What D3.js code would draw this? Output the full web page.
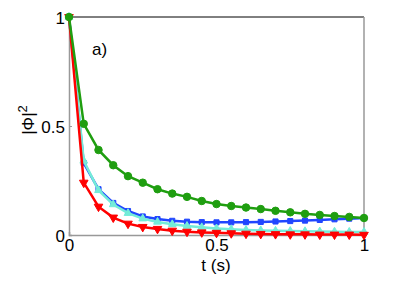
<!DOCTYPE html>
<html>
<head>
<meta charset="utf-8">
<script src="https://cdn.jsdelivr.net/npm/d3@7"></script>
<style>
  body { margin: 0; background: #fff; }
  text { font-family: "Liberation Sans", Arial, sans-serif; fill: #000; }
</style>
</head>
<body>
<div id="chart"></div>
<script>
var svgWidth = 399;
var svgHeight = 283;

var margin = { top: 17, right: 35, bottom: 48, left: 69 };
var width = 364 - margin.left;
var height = 235 - margin.top;

// sample times
var times = d3.range(21).map(i => i * 0.05);

var greenVals = [1, 0.51, 0.39, 0.32, 0.27, 0.24, 0.21, 0.19, 0.175, 0.156, 0.142,
    0.133, 0.126, 0.119, 0.111, 0.104, 0.097, 0.092, 0.087, 0.083, 0.078];
var blueVals = [1, 0.33, 0.21, 0.147, 0.11, 0.085, 0.073, 0.065, 0.061, 0.059, 0.058,
    0.058, 0.059, 0.06, 0.062, 0.064, 0.066, 0.069, 0.072, 0.075, 0.078];
var cyanVals = [1, 0.34, 0.205, 0.14, 0.1, 0.075, 0.06, 0.049, 0.041, 0.035, 0.03,
    0.026, 0.023, 0.021, 0.019, 0.018, 0.017, 0.016, 0.015, 0.014, 0.014];
var redVals = [1, 0.24, 0.13, 0.08, 0.052, 0.037, 0.028, 0.02, 0.015, 0.012, 0.01,
    0.008, 0.006, 0.005, 0.004, 0.003, 0.003, 0.002, 0.002, 0.002, 0.001];

var xTicks = [0, 0.5, 1];
var yTicks = [0, 0.5, 1];

var series = [
    { vals: blueVals, color: "#2046ff", marker: d3.symbolSquare, size: 26 },
    { vals: cyanVals, color: "#74ecd8", marker: d3.symbolTriangle, size: 26, rot: 0 },
    { vals: redVals, color: "#ff0000", marker: d3.symbolTriangle, size: 32, rot: 180 },
    { vals: greenVals, color: "#1f9e10", marker: d3.symbolCircle, size: 44 }
];

var svg = d3.select("#chart")
    .append("svg")
    .attr("width", svgWidth)
    .attr("height", svgHeight);

var chartGroup = svg.append("g")
    .attr("transform", `translate(${margin.left}, ${margin.top})`);

var xScale = d3.scaleLinear().domain([0, 1]).range([0, width]);
var yScale = d3.scaleLinear().domain([0, 1]).range([height, 0]);

// frame: gray left/bottom/right, black top
chartGroup.append("line").attr("x1", 0).attr("x2", width).attr("y1", 0).attr("y2", 0)
    .attr("stroke", "#000").attr("stroke-width", 1);
chartGroup.append("line").attr("x1", width).attr("x2", width).attr("y1", 0).attr("y2", height)
    .attr("stroke", "#999").attr("stroke-width", 1.5);

var xAxis = chartGroup.append("g")
    .attr("transform", `translate(0, ${height})`)
    .call(d3.axisBottom(xScale).tickValues(xTicks).tickSize(-3).tickPadding(7)
        .tickFormat(d => d3.format("")(d)));
var yAxis = chartGroup.append("g")
    .call(d3.axisLeft(yScale).tickValues(yTicks).tickSize(-3).tickPadding(4)
        .tickFormat(d => d3.format("")(d)));

[xAxis, yAxis].forEach(ax => {
    ax.select(".domain").attr("stroke", "#999").attr("stroke-width", 1.5);
    ax.selectAll(".tick line").attr("stroke", "#999");
    ax.selectAll("text").style("font-size", "17px").attr("fill", "#000");
});
xAxis.selectAll("text").attr("dy", "0.5em");
yAxis.selectAll("text").attr("dy", "0.36em");

var line = d3.line()
    .x((d, i) => xScale(times[i]))
    .y(d => yScale(d));

series.forEach(s => {
    chartGroup.append("path")
        .datum(s.vals)
        .attr("fill", "none")
        .attr("stroke", s.color)
        .attr("stroke-width", 2.5)
        .attr("d", line);

    chartGroup.selectAll(null)
        .data(s.vals)
        .enter()
        .append("path")
        .attr("d", d3.symbol().type(s.marker).size(s.size))
        .attr("transform", (d, i) => `translate(${xScale(times[i])}, ${yScale(d)}) rotate(${s.rot || 0})`)
        .attr("fill", s.color)
        .attr("stroke", s.color)
        .attr("stroke-width", 1);
});

// labels
svg.append("text")
    .attr("x", 216).attr("y", 271)
    .attr("text-anchor", "middle")
    .style("font-size", "17px")
    .text("t (s)");

svg.append("text")
    .attr("transform", "translate(34, 120) rotate(-90)")
    .attr("text-anchor", "middle")
    .style("font-size", "17px")
    .html('|Φ|<tspan dy="-7" font-size="13px">2</tspan>');

svg.append("text")
    .attr("x", 92).attr("y", 55)
    .style("font-size", "17px")
    .text("a)");
</script>
</body>
</html>
